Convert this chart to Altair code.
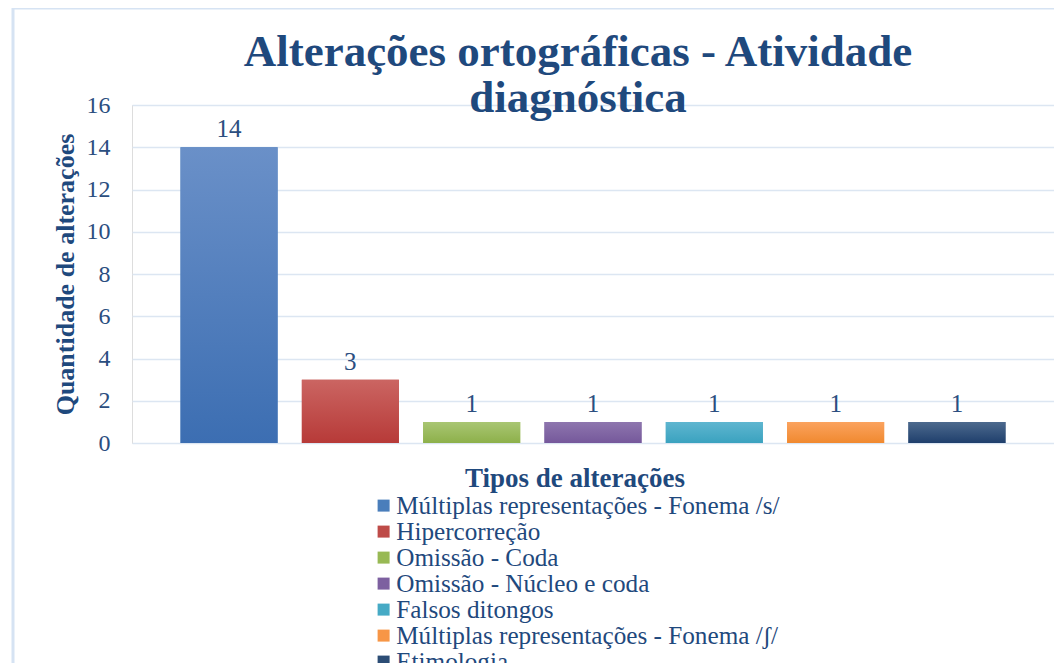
import altair as alt
import pandas as pd

categories = [
    "Múltiplas representações - Fonema /s/",
    "Hipercorreção",
    "Omissão - Coda",
    "Omissão - Núcleo e coda",
    "Falsos ditongos",
    "Múltiplas representações - Fonema /ʃ/",
    "Etimologia",
]
values = [14, 3, 1, 1, 1, 1, 1]
base_colors = ["#4A7EBB", "#BE4B48", "#98B954", "#7D60A0", "#46AAC5", "#F79646", "#2C4D75"]
top_colors = ["#6A90C8", "#CB6562", "#A9C673", "#8E76AE", "#5FB6D0", "#FBA35F", "#4D6A8E"]
bottom_colors = ["#3C6EB2", "#B73A38", "#8DB04A", "#75589B", "#3AA2BF", "#F0892F", "#1F3F6C"]

df = pd.DataFrame({"tipo": categories, "valor": values})

FONT = "Liberation Serif"
TXT = "#1F497D"

x_enc = alt.X("tipo:N", sort=categories, axis=None,
              scale=alt.Scale(paddingInner=0.2, paddingOuter=0.40))
y_enc = alt.Y("valor:Q", scale=alt.Scale(domain=[0, 16]),
              axis=alt.Axis(values=list(range(0, 17, 2)), title="Quantidade de alterações",
                            domain=False, ticks=False, labelPadding=22,
                            labelFont=FONT, labelFontSize=24, labelColor="#2B4E80",
                            titleFont=FONT, titleFontSize=26, titleFontWeight="bold",
                            titleColor=TXT, titleX=-67, titleY=169, titleAngle=270,
                            titleAlign="center", titleBaseline="middle",
                            grid=True, gridColor="#DCE6F2", gridWidth=1.5))

base = alt.Chart(df).mark_bar().encode(
    x=x_enc, y=y_enc,
    color=alt.Color("tipo:N", sort=categories,
                    scale=alt.Scale(domain=categories, range=base_colors),
                    legend=alt.Legend(title="Tipos de alterações", orient="none",
                                      legendX=239, legendY=361, direction="vertical",
                                      titleFont=FONT, titleFontSize=27, titleFontWeight="bold",
                                      titleColor=TXT, titleAnchor="middle", titlePadding=0,
                                      titleLimit=800,
                                      labelFont=FONT, labelFontSize=25.2, labelColor=TXT,
                                      labelLimit=700, labelOffset=0,
                                      symbolType="square", symbolSize=144,
                                      symbolStrokeWidth=0, rowPadding=0)),
)

layers = [base]
for cat, tc, bc in zip(categories, top_colors, bottom_colors):
    grad = alt.Gradient(gradient="linear", x1=0, y1=0, x2=0, y2=1,
                        stops=[alt.GradientStop(offset=0, color=tc),
                               alt.GradientStop(offset=1, color=bc)])
    layers.append(
        alt.Chart(df).transform_filter(alt.datum.tipo == cat)
        .mark_bar(color=grad).encode(x=x_enc, y="valor:Q")
    )

labels = alt.Chart(df).mark_text(font=FONT, fontSize=25, color="#2B4E80",
                                 baseline="bottom", dy=-5).encode(
    x=x_enc, y="valor:Q", text="valor:Q")
layers.append(labels)

frame = pd.DataFrame({"k": [0]})
left_border = alt.Chart(frame).mark_rule(color="#D6E3F3", strokeWidth=3).encode(
    x=alt.value(-119), y=alt.value(-97), y2=alt.value(600))
top_border = alt.Chart(frame).mark_rule(color="#D6E3F3", strokeWidth=3).encode(
    x=alt.value(-119), x2=alt.value(960), y=alt.value(-97))
layers += [left_border, top_border]

chart = alt.layer(*layers).properties(
    width=922, height=338,
    title=alt.TitleParams(text=["Alterações ortográficas - Atividade", "diagnóstica"],
                          font=FONT, fontSize=45, fontWeight="bold", color=TXT,
                          anchor="middle", frame="group", dx=-15, lineHeight=46,
                          offset=-114),
    autosize=alt.AutoSizeParams(type="none"),
    padding={"left": 124, "top": 97, "right": 0, "bottom": 260},
).configure_view(stroke=None).configure(background="white")

chart.save("out.html", embed_options={"renderer": "svg", "actions": False})
